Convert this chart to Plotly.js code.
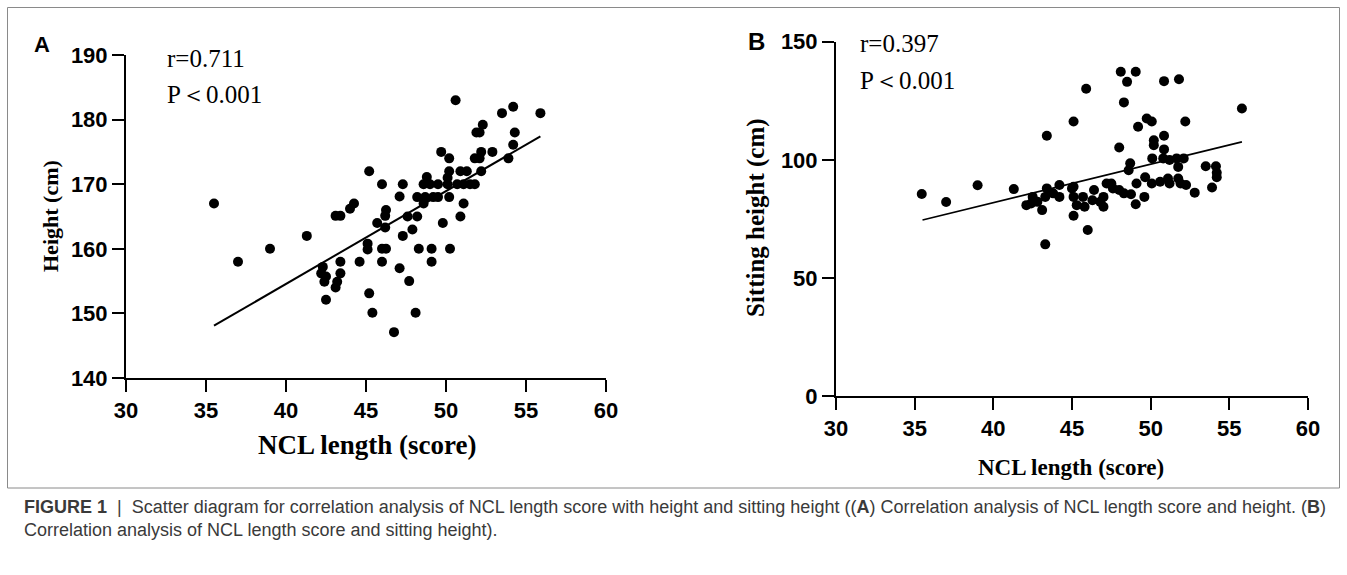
<!DOCTYPE html>
<html>
<head>
<meta charset="utf-8">
<script src="https://cdn.plot.ly/plotly-3.0.1.min.js"></script>
<style>html,body{margin:0;padding:0;background:#fff;}#chart{width:1347px;height:575px;}</style>
</head>
<body>
<div id="chart"></div>
<script>
// ---- Data ----
const nclA = [35.5,37.0,39.0,41.3,45.2,46.0,44.25,44.0,43.1,43.4,46.25,45.7,46.2,45.1,45.1,46.0,46.25,43.4,44.6,46.0,
  42.3,42.2,42.5,42.4,43.4,43.2,43.1,42.5,45.2,45.4,50.6,53.5,54.2,55.9,52.3,52.1,51.9,54.3,54.2,53.9,
  52.9,52.2,51.8,52.1,52.2,49.7,50.2,50.2,50.9,51.3,48.8,48.6,49.0,49.5,50.1,50.7,51.1,51.5,51.8,50.1,
  47.3,47.1,48.2,48.7,49.2,49.5,50.2,48.6,51.1,46.2,47.6,48.2,50.9,49.8,47.9,47.3,48.3,49.1,50.25,49.1,
  47.1,47.7,48.1,46.75];
const heightA = [167,158,160,162,172,170,167,166.2,165.1,165.1,166,164,163.3,160.8,159.9,160,160,158,158,158,
  157.2,156.2,155.7,154.9,156.2,154.9,154.0,152.1,153.1,150.1,183,181,182,181,179.2,178,178,178,176.1,174,
  175,175,174,174,172,175,174,172,172,172,171.1,170,170,170,170,170,170,170,170,171,
  170,168.1,168,168,168,168,168,167,167,165.1,165,165,165,164,163,162,160,160,160,158,
  157,155,150.1,147.1];
const fitAx = [35.5, 55.9];
const fitAy = [148.1, 177.4];

const nclB = [35.45,37.0,39.0,41.3,43.4,45.1,43.3,
  42.1,42.5,42.4,42.8,43.1,43.4,43.3,44.2,44.2,45.0,45.1,45.1,43.8,
  48.1,49.05,48.5,45.9,50.85,51.8,48.3,
  49.75,50.07,49.2,52.2,55.8,
  50.2,50.85,50.2,48.0,50.85,
  50.1,50.8,51.2,51.65,52.1,51.75,48.7,48.6,
  53.5,54.15,54.2,54.2,53.9,52.8,
  49.1,49.65,50.07,50.6,51.1,51.2,51.75,51.9,52.25,
  49.6,49.05,48.75,48.3,48.0,47.5,47.2,47.6,
  47.0,47.0,46.8,46.4,46.3,45.8,45.7,45.3,45.1,46.0];
const sitB = [85.5,82.1,89.2,87.6,110.2,116.2,64.2,
  80.8,84.3,81.5,82.2,78.7,87.9,84.3,89.3,84.3,87.9,84.3,76.3,85.8,
  137.3,137.3,133.0,130.1,133.3,134.1,124.3,
  117.5,116.2,114.0,116.2,121.7,
  108.3,110.2,106.2,105.2,104.4,
  100.6,100.6,99.9,100.6,100.6,97.0,98.5,95.6,
  97.3,97.3,94.5,92.6,88.3,86.1,
  90,92.6,90,90.7,92.1,90,92.1,90,89.3,
  84.3,81.2,85.4,85.8,87.2,90,90,87.9,
  84.3,80.1,82.2,87.2,82.9,80.1,84.3,80.8,88.6,70.3];
const fitBx = [35.5, 55.8];
const fitBy = [74.5, 107.6];

const xTicks = [30,35,40,45,50,55,60];
const yTicksA = [140,150,160,170,180,190];
const yTicksB = [0,50,100,150];

// ---- Layout helpers (pixel -> paper) ----
const W = 1347, H = 575;
const px = v => v / W;
const py = v => 1 - v / H;

const tickFont = {family: 'Liberation Sans, Arial, sans-serif', size: 22, color: '#000', weight: 'bold'};
const serif = 'Liberation Serif, Times New Roman, serif';

function xAxis(d, anchor) {
  return {domain: d, range: [30, 60], tickvals: xTicks, anchor: anchor, showgrid: false, zeroline: false,
    showline: true, linewidth: 2, linecolor: '#000', ticks: 'outside', ticklen: 12, tickwidth: 2,
    tickcolor: '#000', tickfont: tickFont, fixedrange: true};
}
function yAxis(d, r, tv, anchor) {
  return {domain: d, range: r, tickvals: tv, anchor: anchor, showgrid: false, zeroline: false,
    showline: true, linewidth: 2, linecolor: '#000', ticks: 'outside', ticklen: 12, tickwidth: 2,
    tickcolor: '#000', tickfont: tickFont, fixedrange: true};
}

const dot = {color: '#000', size: 10};
const traces = [
  {x: nclA, y: heightA, type: 'scatter', mode: 'markers', marker: dot, xaxis: 'x', yaxis: 'y', cliponaxis: false},
  {x: fitAx, y: fitAy, type: 'scatter', mode: 'lines', line: {color: '#000', width: 2}, xaxis: 'x', yaxis: 'y'},
  {x: nclB, y: sitB, type: 'scatter', mode: 'markers', marker: dot, xaxis: 'x2', yaxis: 'y2', cliponaxis: false},
  {x: fitBx, y: fitBy, type: 'scatter', mode: 'lines', line: {color: '#000', width: 1.6}, xaxis: 'x2', yaxis: 'y2'}
];

function ann(text, x, y, size, opts) {
  return Object.assign({text: text, x: px(x), y: py(y), xref: 'paper', yref: 'paper', showarrow: false,
    font: {family: serif, size: size, color: '#000'}, xanchor: 'center', yanchor: 'middle'}, opts || {});
}

const annotations = [
  ann('<b>A</b>', 42, 44, 22, {font: {family: 'Liberation Sans, Arial, sans-serif', size: 22, color: '#000'}}),
  ann('<b>B</b>', 756, 42, 24, {font: {family: 'Liberation Sans, Arial, sans-serif', size: 24, color: '#000'}}),
  ann('r=0.711', 165, 58, 25, {xanchor: 'left'}),
  ann('P＜0.001', 165, 95, 25, {xanchor: 'left'}),
  ann('r=0.397', 858, 43, 25, {xanchor: 'left'}),
  ann('P＜0.001', 858, 81, 25, {xanchor: 'left'}),
  ann('<b>Height (cm)</b>', 51, 216, 22, {textangle: -90}),
  ann('<b>Sitting height (cm)</b>', 756, 218, 25, {textangle: -90}),
  ann('<b>NCL length (score)</b>', 367, 445, 27),
  ann('<b>NCL length (score)</b>', 1071, 467, 23),
  ann('<b>FIGURE 1</b>  |  Scatter diagram for correlation analysis of NCL length score with height and sitting height ((<b>A</b>) Correlation analysis of NCL length score and height. (<b>B</b>)<br>Correlation analysis of NCL length score and sitting height).',
    22, 518.5, 18, {xanchor: 'left', align: 'left', font: {family: 'Liberation Sans, Arial, sans-serif', size: 18, color: '#3a3a3a'}})
];

const layout = {
  width: W, height: H, margin: {l: 0, r: 0, t: 0, b: 0},
  paper_bgcolor: '#fff', plot_bgcolor: 'rgba(0,0,0,0)', showlegend: false,
  xaxis: xAxis([px(126), px(606)], 'y'),
  yaxis: yAxis([py(378), py(55)], [140, 190], yTicksA, 'x'),
  xaxis2: xAxis([px(836), px(1308)], 'y2'),
  yaxis2: yAxis([py(396), py(41.7)], [0, 150], yTicksB, 'x2'),
  annotations: annotations,
  shapes: [{type: 'rect', xref: 'paper', yref: 'paper', x0: px(7.5), x1: px(1339.5), y0: py(488), y1: py(7.5),
    line: {color: '#8a8a8a', width: 1}}]
};

Plotly.newPlot('chart', traces, layout, {staticPlot: true, displayModeBar: false});
</script>
</body>
</html>
